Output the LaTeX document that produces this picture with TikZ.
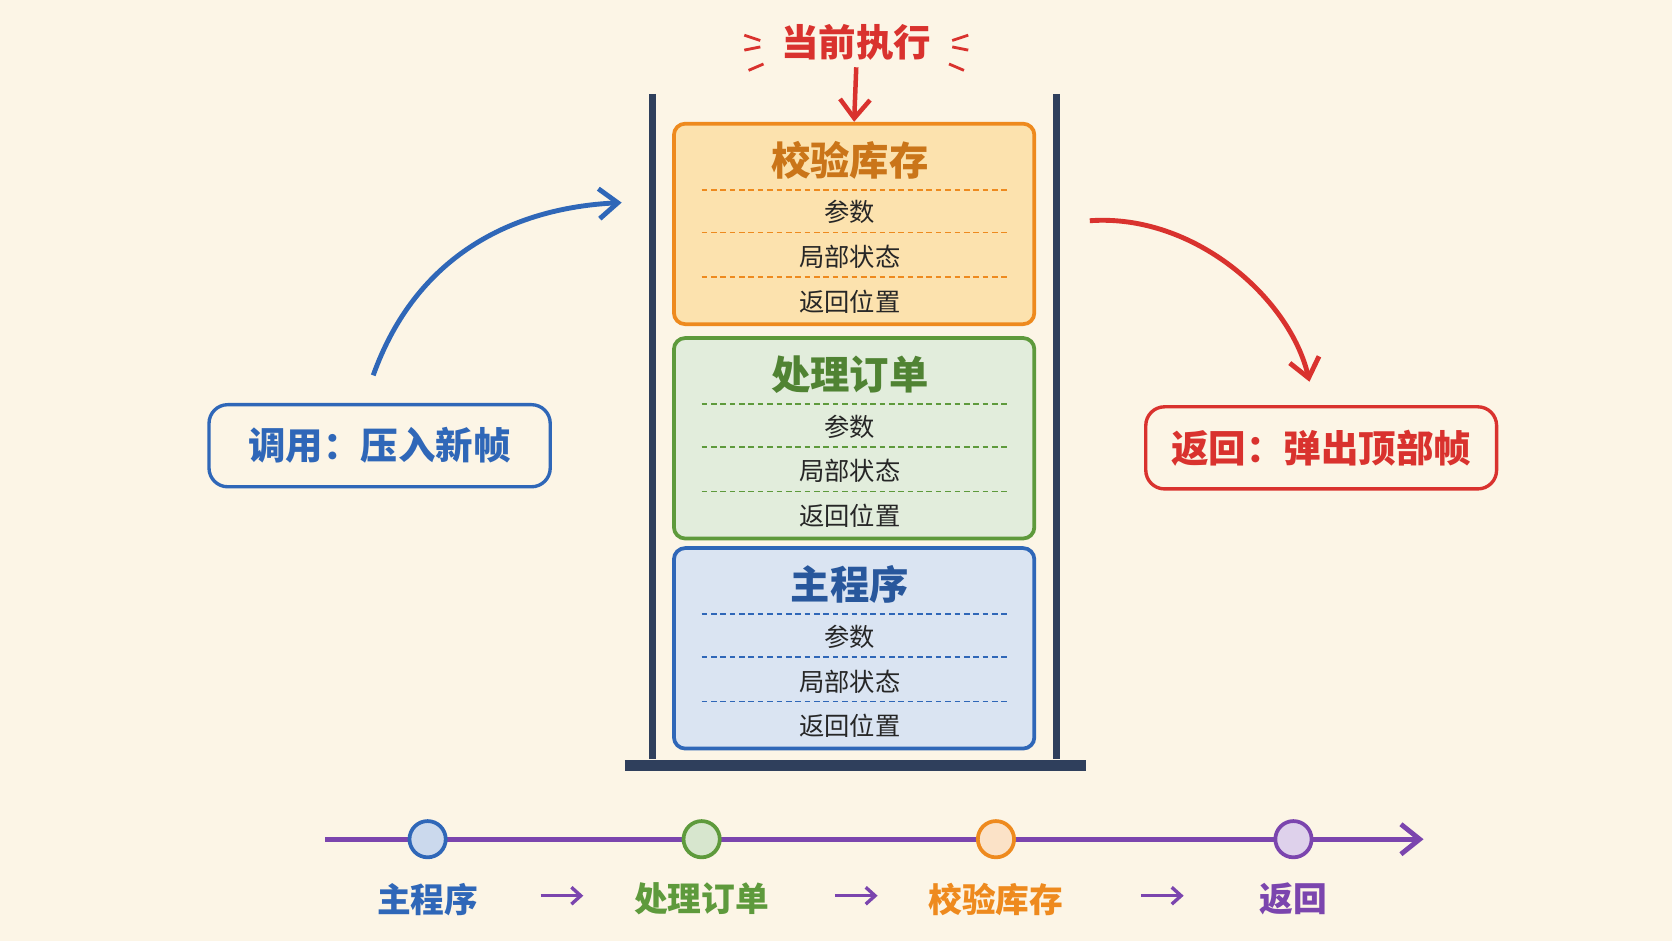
\documentclass[tikz,border=0pt]{standalone}
\usepackage{fontspec}
\newfontfamily\cjk{Noto Sans CJK SC}
\usetikzlibrary{arrows.meta, positioning}
\definecolor{paper}{HTML}{FCF5E6}
\definecolor{navy}{HTML}{2F3F5C}
\definecolor{myorange}{HTML}{EE8A1E}
\definecolor{orangefill}{HTML}{FCE2AE}
\definecolor{mygreen}{HTML}{5E9A3C}
\definecolor{myblue}{HTML}{2F67B8}
\definecolor{myred}{HTML}{D9322E}
\definecolor{mypurple}{HTML}{7B45AE}
\begin{document}
\begin{tikzpicture}[x=0.02cm, y=-0.02cm,
        frame/.style = {draw, rounded corners=6pt, line width=2pt, minimum width=338*0.02cm, minimum height=188*0.02cm},
        title/.style = {font=\cjk\bfseries\fontsize{21}{23}\selectfont},
        row/.style = {font=\cjk\fontsize{13.5}{15}\selectfont, text=black!85},
        tag/.style = {draw, rounded corners=10pt, line width=1.8pt, minimum width=320*0.02cm, minimum height=77*0.02cm, font=\cjk\bfseries\fontsize{20}{22}\selectfont},
        dot/.style = {circle, draw, line width=2pt, minimum size=34*0.02cm, inner sep=0pt},
        phase/.style = {font=\cjk\bfseries\fontsize{18}{20}\selectfont},
        arr/.style = {-{Straight Barb[length=10pt,width=16pt]}, line width=2.6pt}
    ]
    \fill[paper] (0,0) rectangle (1568,882);
    \useasboundingbox (0,0) rectangle (1568,882);

    % stack walls
    \draw[navy, line width=4pt] (612,88) -- (612,712);
    \draw[navy, line width=4pt] (991,88) -- (991,712);
    \draw[navy, line width=6pt] (586,718) -- (1018,718);

    % frames
    \foreach \nm/\cy/\col/\fil/\txt in {top/210/myorange/orangefill/校验库存, mid/411/mygreen/mygreen!18/处理订单, bot/608/myblue/myblue!18/主程序}{
        \node[frame, draw=\col, fill=\fil] (\nm) at (801,\cy) {};
        \node[title, text=\col!85!black] at (797,\cy-60) {\txt};
        \foreach \dy in {-32, 8, 50}
            \draw[\col, densely dashed, line width=0.8pt] (658,\cy+\dy) -- (944,\cy+\dy);
        \node[row] at (797,\cy-11) {参数};
        \node[row] at (797,\cy+31) {局部状态};
        \node[row] at (797,\cy+73) {返回位置};
    }

    % current
    \node[font=\cjk\bfseries\fontsize{20}{22}\selectfont, text=myred] (cur) at (803,40) {当前执行};
    \draw[myred, arr, line width=2.4pt] (cur.south) -- (top.north);
    \foreach \a/\b/\c/\d in {698/33/713/38, 698/47/713/44, 702/66/716/60, 908/33/893/38, 908/47/893/44, 904/66/890/60}
        \draw[myred, line width=1.5pt] (\a,\b) -- (\c,\d);

    % call / return
    \node[tag, draw=myblue, text=myblue] (push) at (356,418) {调用：压入新帧};
    \node[tag, draw=myred, text=myred, minimum width=329*0.02cm] (pop) at (1239,420) {返回：弹出顶部帧};
    \coordinate (pushA) at (350,352);
    \coordinate (pushB) at (583,190);
    \coordinate (popA) at (1022,207);
    \coordinate (popB) at (1228,358);
    \draw[myblue, arr] (pushA) .. controls (390,240) and (480,195) .. (pushB);
    \draw[myred, arr] (popA) .. controls (1120,200) and (1210,280) .. (popB);

    % timeline
    \coordinate (tl0) at (305,787);
    \coordinate (tl1) at (1335,787);
    \draw[mypurple, arr] (tl0) -- (tl1);
    \foreach \nm/\x/\col/\txt in {d1/401/myblue/主程序, d2/658/mygreen/处理订单, d3/934/myorange/校验库存, d4/1213/mypurple/返回}{
        \node[dot, draw=\col, fill=\col!25] (\nm) at (\x,787) {};
        \node[phase, text=\col, below=16*0.02cm of \nm] {\txt};
    }
    \foreach \x in {527, 803, 1090}
        \draw[mypurple, line width=1.8pt, -{Straight Barb[length=5pt,width=9pt]}] (\x-20,840) -- (\x+20,840);
\end{tikzpicture}
\end{document}
